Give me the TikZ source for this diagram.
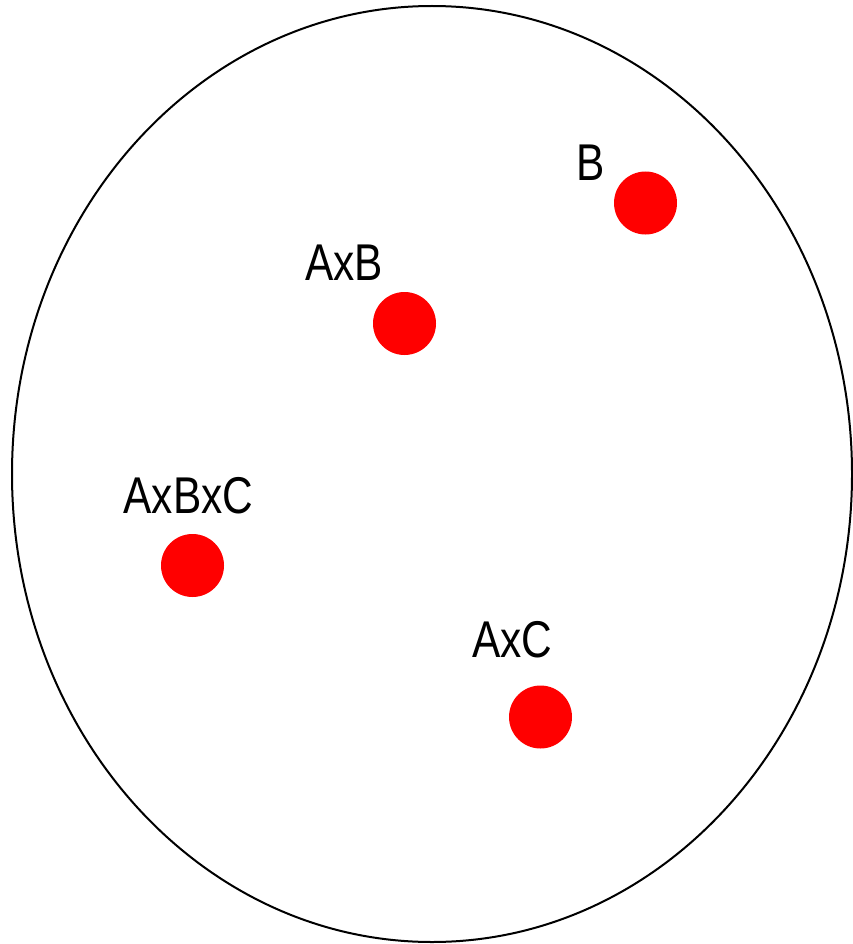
\documentclass[tikz,border=0pt]{standalone}
\usepackage{fontspec}
\setmainfont{Liberation Sans}
\newfontfamily\labelfont[FakeStretch=0.82]{Liberation Sans}
\begin{document}
\begin{tikzpicture}[x=1pt,y=-1pt,
  dot/.style={circle,fill=red,draw=none,minimum size=63pt,inner sep=0pt},
  lbl/.style={anchor=base,inner sep=0pt,font=\labelfont\fontsize{51.7}{60}\selectfont}]
\useasboundingbox (0,0) rectangle (852,944);
\draw[line width=2pt] (432,474) ellipse [x radius=420pt, y radius=468pt];
\node[dot] (b) at (645.5,203) {};
\node[dot] (axb) at (404.5,323.5) {};
\node[dot] (axbxc) at (192.5,565.5) {};
\node[dot] (axc) at (540.5,717) {};
\node[lbl] (lb) at (590.5,181) {B};
\node[lbl] (laxb) at (344,280) {AxB};
\node[lbl] (laxbxc) at (188.5,513) {AxBxC};
\node[lbl] (laxc) at (512.5,657) {AxC};
\end{tikzpicture}
\end{document}
